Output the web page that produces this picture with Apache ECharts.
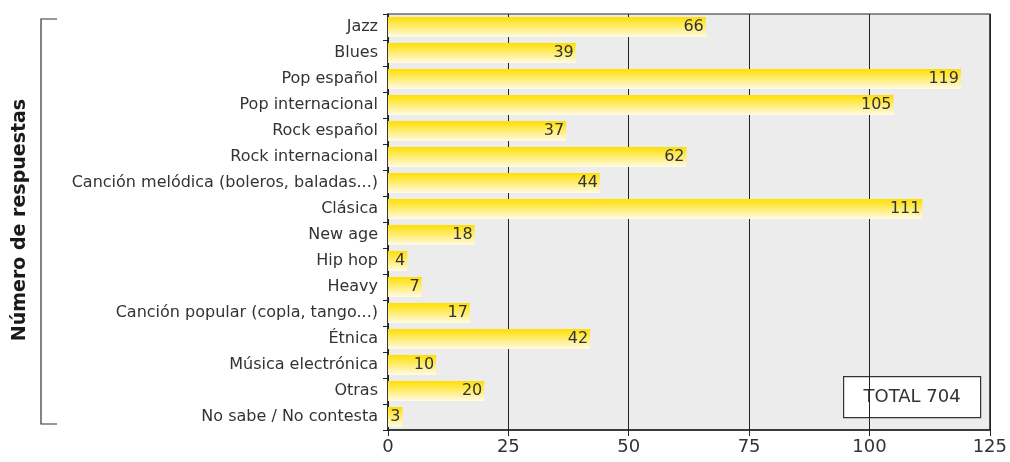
<!DOCTYPE html>
<html>
<head>
<meta charset="utf-8">
<script src="https://cdn.jsdelivr.net/npm/echarts@6/dist/echarts.min.js"></script>
<style>
  html, body { margin: 0; padding: 0; background: #fff; }
  #main { width: 1010px; height: 462px; }
</style>
</head>
<body>
<div id="main"></div>
<script>
// datos
var generos = ['Jazz', 'Blues', 'Pop español', 'Pop internacional', 'Rock español',
    'Rock internacional', 'Canción melódica (boleros, baladas...)', 'Clásica', 'New age',
    'Hip hop', 'Heavy', 'Canción popular (copla, tango...)', 'Étnica', 'Música electrónica',
    'Otras', 'No sabe / No contesta'];
var respuestas = [66, 39, 119, 105, 37, 62, 44, 111, 18, 4, 7, 17, 42, 10, 20, 3];
var total = 704;

var fuente = 'DejaVu Sans';
var chart = echarts.init(document.getElementById('main'));

var option = {
    animation: false,
    textStyle: { fontFamily: fuente },
    grid: {
        left: 388,
        right: 18,
        top: 14,
        bottom: 32,
        show: true,
        backgroundColor: '#ececec',
        borderColor: '#222',
        borderWidth: 1.2
    },
    xAxis: {
        type: 'value',
        min: 0,
        max: 125,
        interval: 25,
        axisLine: { show: true, lineStyle: { color: '#222', width: 1.5 } },
        axisTick: { show: true, length: 6, lineStyle: { color: '#222' } },
        axisLabel: { color: '#333', fontSize: 18, margin: 8, fontFamily: fuente },
        splitLine: { show: true, lineStyle: { color: '#222', width: 1 } }
    },
    yAxis: {
        type: 'category',
        inverse: true,
        data: generos,
        axisLine: { show: true, lineStyle: { color: '#222', width: 1.5 } },
        axisTick: { show: true, length: 5, lineStyle: { color: '#222' } },
        axisLabel: { color: '#333', fontSize: 16, margin: 10, fontFamily: fuente }
    },
    series: [{
        type: 'bar',
        data: respuestas,
        barWidth: 20,
        itemStyle: {
            color: new echarts.graphic.LinearGradient(0, 0, 0, 1, [
                { offset: 0, color: '#ffdf00' },
                { offset: 1, color: '#fffbe6' }
            ])
        },
        label: {
            show: true,
            position: 'insideRight',
            distance: 2,
            color: '#333',
            fontSize: 16,
            fontFamily: fuente
        }
    }],
    graphic: [
        {
            type: 'text',
            x: 20,
            y: 220,
            rotation: Math.PI / 2,
            style: {
                text: 'Número de respuestas',
                font: 'bold 19px "DejaVu Sans"',
                fill: '#1a1a1a',
                align: 'center',
                verticalAlign: 'middle'
            }
        },
        {
            type: 'polyline',
            shape: { points: [[57, 19], [41, 19], [41, 424], [57, 424]] },
            style: { stroke: '#333', lineWidth: 1.2, fill: null }
        },
        {
            type: 'group',
            left: 843,
            top: 376,
            children: [
                {
                    type: 'rect',
                    shape: { x: 0, y: 0, width: 137, height: 41 },
                    style: { fill: '#fff', stroke: '#333', lineWidth: 1.2 }
                },
                {
                    type: 'text',
                    x: 68.5,
                    y: 21,
                    style: {
                        text: 'TOTAL ' + total,
                        font: '18px "DejaVu Sans"',
                        fill: '#333',
                        align: 'center',
                        verticalAlign: 'middle'
                    }
                }
            ]
        }
    ]
};

chart.setOption(option);
window.onresize = chart.resize;
</script>
</body>
</html>
